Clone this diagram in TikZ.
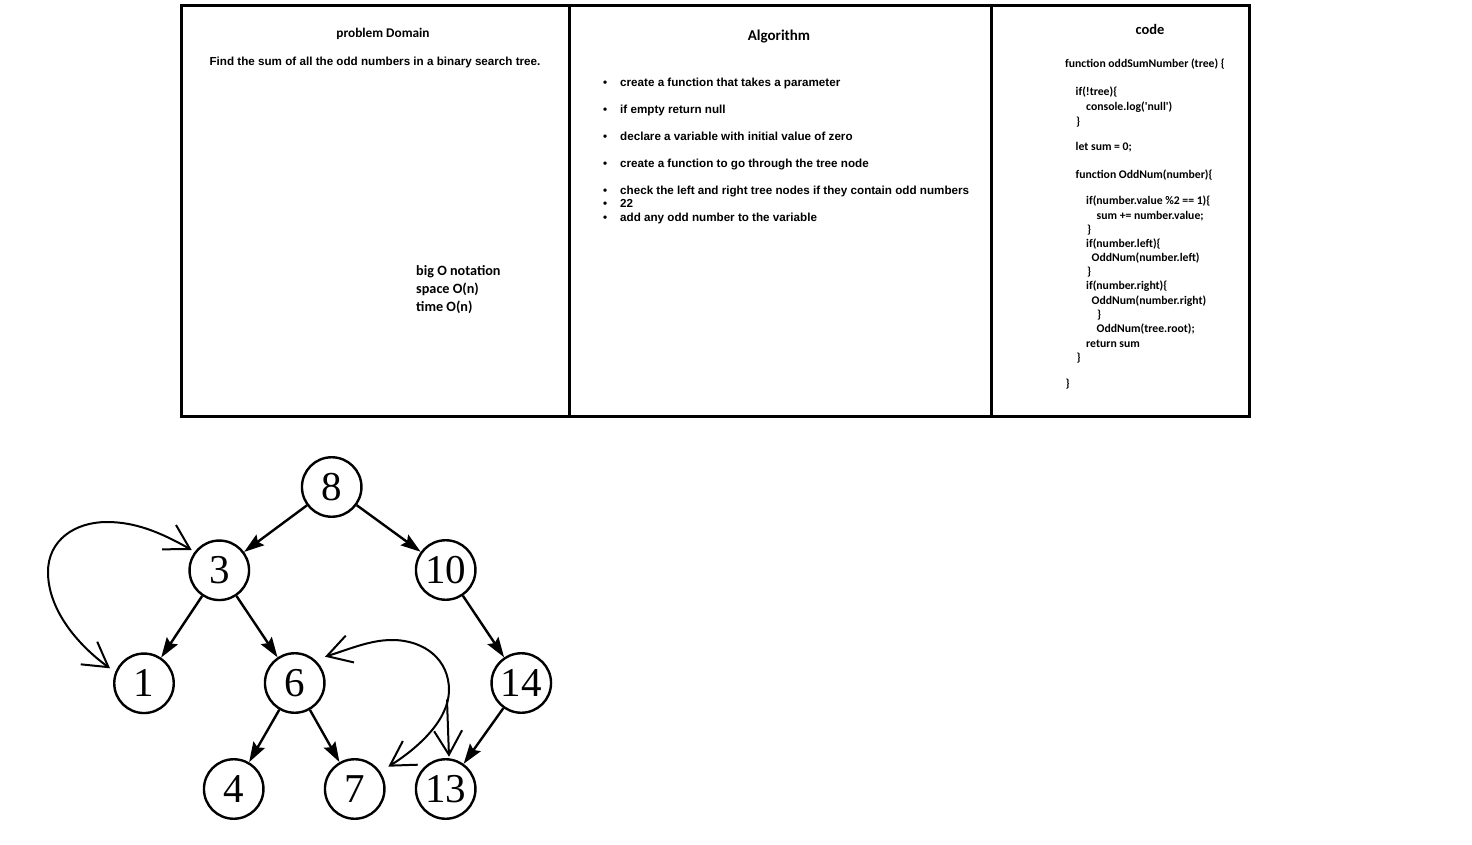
\documentclass[tikz,border=0pt]{standalone}
\usepackage{fontspec}
\setmainfont{Liberation Sans}
\newfontfamily\codefont{Carlito}[Ligatures=TeXOff]
\newfontfamily\treefont{Liberation Serif}
\usetikzlibrary{arrows.meta}
\tikzset{
  panel/.style={draw=black, line width=3pt},
  ttl/.style={font=\codefont\bfseries\fontsize{15}{17}\selectfont, anchor=mid, inner sep=0pt},
  codeline/.style={font=\codefont\bfseries\fontsize{11.7}{13}\selectfont, anchor=mid west, inner sep=0pt},
  bigo/.style={font=\codefont\bfseries\fontsize{14.2}{16}\selectfont, anchor=mid west, inner sep=0pt},
  bul/.style={font=\bfseries\fontsize{11.65}{13}\selectfont, anchor=mid west, inner sep=0pt},
  tn/.style={circle, draw=black, line width=2.4pt, minimum size=59.5pt, inner sep=0pt,
             font=\treefont\fontsize{41}{41}\selectfont},
  tedge/.style={line width=2.4pt, -{Stealth[length=20pt,width=13pt,inset=3pt]}},
  barb/.tip={Straight Barb[length=24pt,width=28pt]},
  trav/.style={line width=2pt, line cap=round},
}
\begin{document}
\begin{tikzpicture}[x=1pt,y=-1pt]
\useasboundingbox[fill=white] (0,0) rectangle (1472,845);

% panels
\draw[panel] (181,6) rectangle (1249.5,416.5);
\draw[panel] (569.5,6) -- (569.5,416.5);
\draw[panel] (991.5,6) -- (991.5,416.5);

% problem domain
\node[ttl, font=\codefont\bfseries\fontsize{13.3}{15}\selectfont] (pdt) at (383,34.5) {problem Domain};
\node[bul, anchor=mid] (pdx) at (375,63) {Find the sum of all the odd numbers in a binary search tree.};
\node[bigo] (bo1) at (416,272.5) {big O notation};
\node[bigo] (bo2) at (416,290.5) {space O(n)};
\node[bigo] (bo3) at (416,308.5) {time O(n)};

% algorithm
\node[ttl] (alt) at (779,37.5) {Algorithm};
\node[bul] (a1) at (603,84) {\makebox[17pt][l]{\textbullet}create a function that takes a parameter};
\node[bul] (a2) at (603,110.8) {\makebox[17pt][l]{\textbullet}if empty return null};
\node[bul] (a3) at (603,138) {\makebox[17pt][l]{\textbullet}declare a variable with initial value of zero};
\node[bul] (a4) at (603,165.3) {\makebox[17pt][l]{\textbullet}create a function to go through the tree node};
\node[bul] (a5) at (603,192) {\makebox[17pt][l]{\textbullet}check the left and right tree nodes if they contain odd numbers};
\node[bul] (a6) at (603,204.6) {\makebox[17pt][l]{\textbullet}22};
\node[bul] (a7) at (603,218.6) {\makebox[17pt][l]{\textbullet}add any odd number to the variable};

% code
\node[ttl, font=\codefont\bfseries\fontsize{14.5}{17}\selectfont] (cdt) at (1150,32.2) {code};
\node[codeline] (c1) at (1065,65) {function oddSumNumber (tree) \{};
\node[codeline] (c2) at (1075.5,93) {if(!tree)\{};
\node[codeline] (c3) at (1086,108.3) {console.log('null')};
\node[codeline] (c4) at (1076,123) {\}};
\node[codeline] (c5) at (1075.5,148) {let sum = 0;};
\node[codeline] (c6) at (1075.5,176) {function OddNum(number)\{};
\node[codeline] (c7) at (1086,202.3) {if(number.value \%2 == 1)\{};
\node[codeline] (c8) at (1096.5,216.8) {sum += number.value;};
\node[codeline] (c9) at (1087,230.8) {\}};
\node[codeline] (c10) at (1086,244.6) {if(number.left)\{};
\node[codeline] (c11) at (1091.5,258.8) {OddNum(number.left)};
\node[codeline] (c12) at (1087,272.8) {\}};
\node[codeline] (c13) at (1086,287.3) {if(number.right)\{};
\node[codeline] (c14) at (1091.5,301.8) {OddNum(number.right)};
\node[codeline] (c15) at (1097,315.8) {\}};
\node[codeline] (c16) at (1096.5,329.8) {OddNum(tree.root);};
\node[codeline] (c17) at (1086,344.6) {return sum};
\node[codeline] (c18) at (1076.5,358.8) {\}};
\node[codeline] (c19) at (1065.5,384.8) {\}};

% tree
\node[tn] (n8) at (331.7,487) {8};
\node[tn] (n3) at (219.3,570.3) {3};
\node[tn] (n10) at (445.7,570) {10};
\node[tn] (n1) at (144,683.3) {1};
\node[tn] (n6) at (294.7,683) {6};
\node[tn] (n14) at (521.3,683) {14};
\node[tn] (n4) at (233.7,789) {4};
\node[tn] (n7) at (354.7,789) {7};
\node[tn] (n13) at (445.7,789) {13};

\draw[tedge] (n8) -- (n3);
\draw[tedge] (n8) -- (n10);
\draw[tedge] (n3) -- (n1);
\draw[tedge] (n3) -- (n6);
\draw[tedge] (n10) -- (n14);
\draw[tedge] (n6) -- (n4);
\draw[tedge] (n6) -- (n7);
\draw[tedge] (n14) -- (n13);

% traversal arrows
\coordinate (t3) at (191.7,550);
\coordinate (t1) at (110,668.3);
\coordinate (t6) at (325,656.7);
\coordinate (t7) at (388.3,766.7);
\coordinate (br) at (447,700);
\coordinate (t13) at (449,756.7);

\draw[trav, {barb}-{barb}] (t3) .. controls (160,532) and (135,522) .. (107,522)
   .. controls (75,522) and (48,540) .. (48,572)
   .. controls (48,610) and (78,645) .. (t1);
\draw[trav, {barb}-{barb}] (t6) .. controls (350,649) and (370,640) .. (392,640)
   .. controls (425,640) and (449,660) .. (449,690)
   .. controls (449,720) and (418,748) .. (t7);
\draw[trav, -{barb}] (br) -- (t13);
\end{tikzpicture}
\end{document}
